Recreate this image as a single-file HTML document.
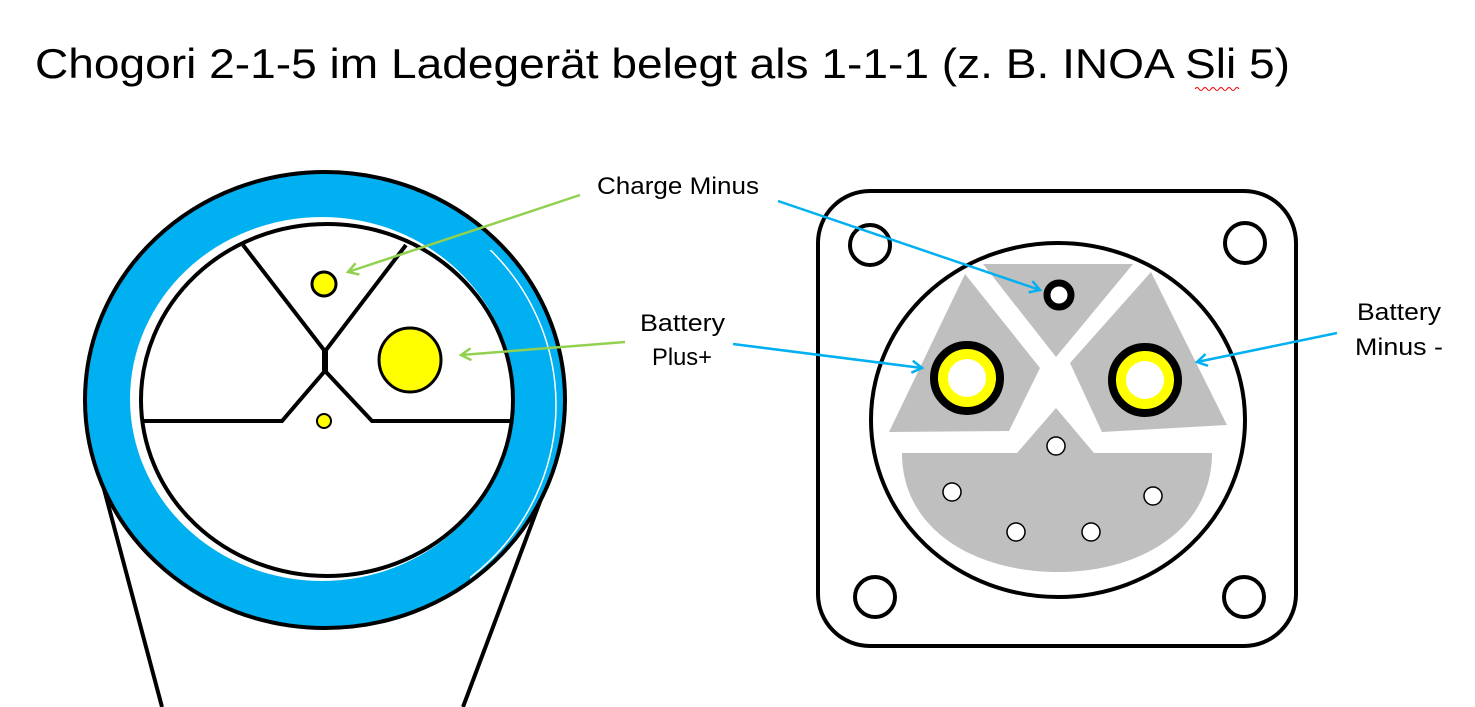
<!DOCTYPE html>
<html><head><meta charset="utf-8"><style>html,body{margin:0;padding:0;background:#fff;}svg{display:block}</style></head><body>
<svg width="1475" height="707" viewBox="0 0 1475 707" xmlns="http://www.w3.org/2000/svg">
<defs>
<marker id="ag" markerWidth="14" markerHeight="14" refX="11" refY="7" orient="auto" markerUnits="userSpaceOnUse"><polyline points="1,1 11,7 1,13" fill="none" stroke="#92d050" stroke-width="2.5"/></marker>
<marker id="ab" markerWidth="14" markerHeight="14" refX="11" refY="7" orient="auto" markerUnits="userSpaceOnUse"><polyline points="1,1 11,7 1,13" fill="none" stroke="#00b0f0" stroke-width="2.5"/></marker>
<clipPath id="cr"><rect x="470" y="250" width="120" height="400"/></clipPath>
</defs>
<text x="35" y="78" font-family="Liberation Sans, sans-serif" font-size="42" textLength="1255" lengthAdjust="spacingAndGlyphs">Chogori 2-1-5 im Ladegerät belegt als 1-1-1 (z. B. INOA Sli 5)</text>
<path d="M1195 89 q2 -3 4 0 t4 0 t4 0 t4 0 t4 0 t4 0 t4 0 t4 0 t4 0 t4 0 t4 0" fill="none" stroke="#e00" stroke-width="1"/>
<!-- left connector -->
<line x1="100" y1="474" x2="162" y2="707" stroke="#000" stroke-width="4"/>
<line x1="553" y1="467" x2="463" y2="707" stroke="#000" stroke-width="4"/>
<ellipse cx="325" cy="400" rx="240" ry="228" fill="#00b0f0" stroke="#000" stroke-width="4"/>
<ellipse cx="322" cy="399" rx="192" ry="182" fill="#fff"/>
<ellipse cx="330" cy="405" rx="226" ry="220" fill="none" stroke="#fff" stroke-width="1.5" clip-path="url(#cr)"/>
<ellipse cx="327" cy="400" rx="186" ry="176" fill="#fff" stroke="#000" stroke-width="4"/>
<polyline points="243,245 324,350 324,372 282,421 143,421" fill="none" stroke="#000" stroke-width="4"/>
<polyline points="406,245 326,350 326,372 372,421 512,421" fill="none" stroke="#000" stroke-width="4"/>
<circle cx="324" cy="284" r="12" fill="#ff0" stroke="#000" stroke-width="3"/>
<ellipse cx="410" cy="360" rx="31" ry="32" fill="#ff0" stroke="#000" stroke-width="3"/>
<circle cx="324" cy="421" r="7" fill="#ff0" stroke="#000" stroke-width="2"/>
<line x1="580" y1="195" x2="348" y2="272" stroke="#92d050" stroke-width="2.5" marker-end="url(#ag)"/>
<line x1="625" y1="342" x2="461" y2="355" stroke="#92d050" stroke-width="2.5" marker-end="url(#ag)"/>
<!-- right connector -->
<rect x="818" y="191" width="478" height="455" rx="52" fill="#fff" stroke="#000" stroke-width="4"/>
<circle cx="870" cy="245" r="20" fill="#fff" stroke="#000" stroke-width="4"/>
<circle cx="1245" cy="243" r="20" fill="#fff" stroke="#000" stroke-width="4"/>
<circle cx="875" cy="597" r="20" fill="#fff" stroke="#000" stroke-width="4"/>
<circle cx="1244" cy="597" r="20" fill="#fff" stroke="#000" stroke-width="4"/>
<ellipse cx="1058" cy="420" rx="187" ry="177" fill="#fff" stroke="#000" stroke-width="4"/>
<polygon points="983,264 1133,264 1056,357" fill="#bfbfbf"/>
<polygon points="965,274 1040,368 1009,431 889,432" fill="#bfbfbf"/>
<polygon points="1151,272 1227,425 1102,432 1070,363" fill="#bfbfbf"/>
<path d="M902 453 L1017 453 L1056 408 L1094 453 L1212 453 C1212 530 1140 572 1058 572 C975 572 902 530 902 453 Z" fill="#bfbfbf"/>
<circle cx="1059" cy="295" r="12" fill="#fff" stroke="#000" stroke-width="7"/>
<circle cx="967" cy="378" r="33" fill="#ff0" stroke="#000" stroke-width="8"/>
<circle cx="967" cy="378" r="19" fill="#fff"/>
<circle cx="1145" cy="380" r="33" fill="#ff0" stroke="#000" stroke-width="8"/>
<circle cx="1145" cy="380" r="19" fill="#fff"/>
<g fill="#fff" stroke="#000" stroke-width="1.5">
<circle cx="1056" cy="446" r="9"/><circle cx="952" cy="492" r="9"/><circle cx="1016" cy="532" r="9"/><circle cx="1091" cy="532" r="9"/><circle cx="1153" cy="496" r="9"/>
</g>
<line x1="778" y1="201" x2="1040" y2="290" stroke="#00b0f0" stroke-width="2.5" marker-end="url(#ab)"/>
<line x1="733" y1="344" x2="922" y2="368" stroke="#00b0f0" stroke-width="2.5" marker-end="url(#ab)"/>
<line x1="1337" y1="333" x2="1197" y2="362" stroke="#00b0f0" stroke-width="2.5" marker-end="url(#ab)"/>
<g font-family="Liberation Sans, sans-serif" font-size="24" fill="#000">
<text x="597" y="194" textLength="162" lengthAdjust="spacingAndGlyphs">Charge Minus</text>
<text x="640" y="331" textLength="85" lengthAdjust="spacingAndGlyphs">Battery</text>
<text x="652" y="365" textLength="60" lengthAdjust="spacingAndGlyphs">Plus+</text>
<text x="1357" y="320" textLength="84" lengthAdjust="spacingAndGlyphs">Battery</text>
<text x="1355" y="355" textLength="88" lengthAdjust="spacingAndGlyphs">Minus -</text>
</g>
</svg>
</body></html>
